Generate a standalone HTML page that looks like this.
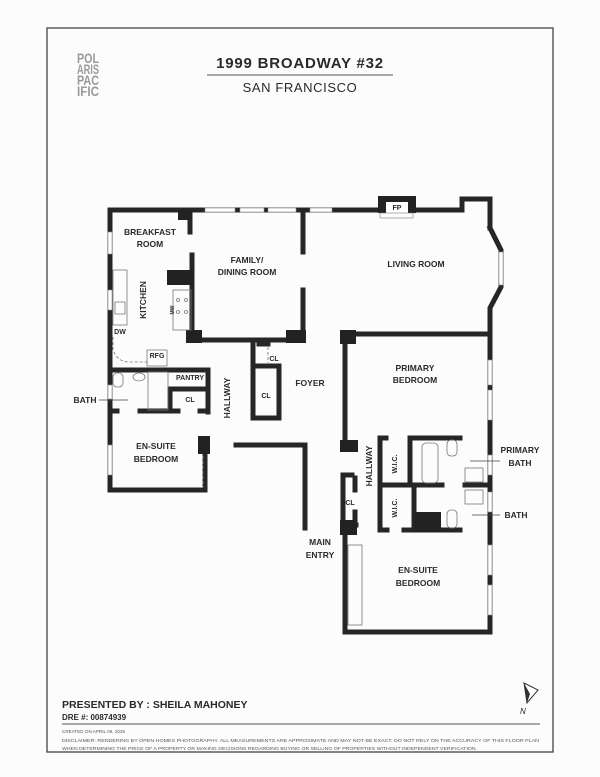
<!DOCTYPE html>
<html><head><meta charset="utf-8"><style>
html,body{margin:0;padding:0;background:#fcfcfc;}
svg{display:block}
text{font-family:"Liberation Sans",sans-serif;fill:#2a2a2a;font-weight:bold}
text.logo{fill:#9a9a9a;font-size:14px}
text.disc{fill:#555;font-weight:normal}
</style></head><body>
<svg width="600" height="777" viewBox="0 0 600 777" xmlns="http://www.w3.org/2000/svg">
<rect x="0" y="0" width="600" height="777" fill="#fcfcfc"/>
<rect x="47" y="28" width="506" height="724" fill="none" stroke="#444" stroke-width="1.3"/>
<!-- logo -->
<text class="logo" x="77" y="63" textLength="22" lengthAdjust="spacingAndGlyphs">POL</text>
<text class="logo" x="77" y="74" textLength="22" lengthAdjust="spacingAndGlyphs">ARIS</text>
<text class="logo" x="77" y="85" textLength="22" lengthAdjust="spacingAndGlyphs">PAC</text>
<text class="logo" x="77" y="96" textLength="22" lengthAdjust="spacingAndGlyphs">IFIC</text>
<text x="300" y="68" text-anchor="middle" font-size="15" letter-spacing="0.8">1999 BROADWAY #32</text>
<line x1="207" y1="75" x2="393" y2="75" stroke="#555" stroke-width="1"/>
<text x="300" y="92" text-anchor="middle" font-size="13" style="font-weight:normal" letter-spacing="0.6">SAN FRANCISCO</text>

<!-- walls -->
<g stroke="#262626" stroke-width="5" fill="none" stroke-linecap="square">
<polyline points="110,212 110,490 205,490 205,440"/>
<line x1="110" y1="210" x2="303" y2="210"/>
<line x1="303" y1="210" x2="462" y2="210"/>
<polyline points="462,210 462,199 490,199 490,228"/>
<polyline points="490,228 501,250 501,287 490,308 490,332"/>
<line x1="190" y1="212" x2="190" y2="232"/>
<line x1="192" y1="255" x2="192" y2="340"/>
<line x1="303" y1="212" x2="303" y2="252"/>
<line x1="303" y1="290" x2="303" y2="340"/>
<line x1="192" y1="340" x2="303" y2="340"/>
<line x1="110" y1="370" x2="208" y2="370"/>
<line x1="208" y1="370" x2="208" y2="412"/>
<line x1="170" y1="389" x2="208" y2="389"/>
<line x1="170" y1="389" x2="170" y2="411"/>
<line x1="110" y1="411" x2="117" y2="411"/>
<line x1="140" y1="411" x2="178" y2="411"/>
<line x1="200" y1="411" x2="208" y2="411"/>
<polyline points="253,344 253,418 279,418 279,366 253,366"/>
<line x1="259" y1="344" x2="268" y2="344"/>
<polyline points="236,445 305,445 305,528"/>
<polyline points="345,334 490,334 490,632 345,632 345,528"/>
<line x1="345" y1="334" x2="345" y2="445"/>
<line x1="380" y1="438" x2="380" y2="530"/>
<line x1="380" y1="438" x2="386" y2="438"/>
<line x1="380" y1="530" x2="387" y2="530"/>
<line x1="410" y1="438" x2="460" y2="438"/>
<line x1="410" y1="438" x2="410" y2="485"/>
<line x1="380" y1="485" x2="442" y2="485"/>
<line x1="414" y1="485" x2="414" y2="530"/>
<line x1="404" y1="530" x2="460" y2="530"/>
<line x1="465" y1="485" x2="490" y2="485"/>
<polyline points="352,475 343,475 343,525 356,525"/>
<line x1="355" y1="478" x2="355" y2="490"/>
<line x1="355" y1="512" x2="355" y2="525"/>
</g>
<g fill="#222">
<rect x="167" y="270" width="27" height="15"/>
<rect x="186" y="330" width="16" height="13"/>
<rect x="286" y="330" width="20" height="13"/>
<rect x="178" y="210" width="14" height="10"/>
<rect x="198" y="436" width="12" height="18"/>
<rect x="340" y="330" width="16" height="14"/>
<rect x="340" y="440" width="18" height="12"/>
<rect x="340" y="520" width="17" height="15"/>
<rect x="414" y="512" width="27" height="20"/>
<rect x="378" y="196" width="38" height="17"/>
</g>
<rect x="386" y="202" width="22" height="11" fill="#fff"/>
<rect x="380" y="213" width="33" height="5" fill="none" stroke="#777" stroke-width="0.6"/>
<g fill="#fff" stroke="#888" stroke-width="0.6">
<rect x="205" y="208" width="30" height="4"/><rect x="240" y="208" width="24" height="4"/><rect x="268" y="208" width="28" height="4"/><rect x="310" y="208" width="22" height="4"/>
<rect x="108" y="232" width="4" height="22"/><rect x="108" y="290" width="4" height="20"/>
<rect x="108" y="385" width="4" height="14"/><rect x="108" y="445" width="4" height="30"/>
<rect x="499" y="252" width="4" height="33"/>
<rect x="488" y="360" width="4" height="25"/><rect x="488" y="390" width="4" height="30"/><rect x="488" y="455" width="4" height="20"/><rect x="488" y="492" width="4" height="20"/><rect x="488" y="545" width="4" height="30"/><rect x="488" y="585" width="4" height="30"/>
</g>
<g fill="none" stroke="#777" stroke-width="0.8">
<rect x="113" y="270" width="14" height="55"/><rect x="115" y="302" width="10" height="12"/>
<rect x="173" y="290" width="18" height="40"/>
<circle cx="178" cy="300" r="1.5"/><circle cx="186" cy="300" r="1.5"/><circle cx="178" cy="312" r="1.5"/><circle cx="186" cy="312" r="1.5"/>
<path d="M113,337 v12 q3,12 15,13 h20" stroke-dasharray="3,2"/>
<rect x="147" y="350" width="20" height="16"/>
<rect x="113" y="373" width="10" height="14" rx="4"/>
<ellipse cx="139" cy="377" rx="6" ry="4"/>
<rect x="148" y="372" width="20" height="38"/>
<rect x="422" y="443" width="16" height="40" rx="4"/>
<rect x="447" y="440" width="10" height="16" rx="4"/>
<rect x="465" y="468" width="18" height="14"/><rect x="465" y="490" width="18" height="14"/>
<rect x="447" y="510" width="10" height="18" rx="4"/>
<rect x="348" y="545" width="14" height="80"/>
<line x1="203" y1="456" x2="203" y2="488" stroke-dasharray="3,2"/>
<line x1="268" y1="347" x2="268" y2="363" stroke-dasharray="3,2"/>
</g>
<g stroke="#444" stroke-width="0.8">
<line x1="99" y1="400" x2="128" y2="400"/>
<line x1="470" y1="461" x2="500" y2="461"/>
<line x1="472" y1="515" x2="500" y2="515"/>
</g>
<g font-size="8.5" text-anchor="middle">
<text x="150" y="235">BREAKFAST</text><text x="150" y="247">ROOM</text>
<text x="247" y="263">FAMILY/</text><text x="247" y="275">DINING ROOM</text>
<text x="416" y="267">LIVING ROOM</text>
<text x="415" y="371">PRIMARY</text><text x="415" y="383">BEDROOM</text>
<text x="310" y="386">FOYER</text>
<text x="156" y="449">EN-SUITE</text><text x="156" y="462">BEDROOM</text>
<text x="418" y="573">EN-SUITE</text><text x="418" y="586">BEDROOM</text>
<text x="320" y="545">MAIN</text><text x="320" y="558">ENTRY</text>
<text x="85" y="403">BATH</text>
<text x="520" y="453">PRIMARY</text><text x="520" y="466">BATH</text>
<text x="516" y="518">BATH</text>
<text x="143" y="300" transform="rotate(-90 143 300)" dy="3">KITCHEN</text>
<text x="227" y="398" transform="rotate(-90 227 398)" dy="3">HALLWAY</text>
<text x="369" y="466" transform="rotate(-90 369 466)" dy="3">HALLWAY</text>
</g>
<g font-size="7" text-anchor="middle">
<text x="274" y="361">CL</text><text x="266" y="398">CL</text><text x="190" y="380">PANTRY</text><text x="190" y="402">CL</text>
<text x="350" y="505">CL</text><text x="397" y="210">FP</text>
<text x="120" y="334">DW</text><text x="157" y="358">RFG</text>
<text x="395" y="464" transform="rotate(-90 395 464)" dy="2">W.I.C.</text>
<text x="395" y="508" transform="rotate(-90 395 508)" dy="2">W.I.C.</text>
<text x="172" y="310" transform="rotate(-90 172 310)" dy="2" font-size="5">MW</text>
</g>
<path d="M524,683 L538,690 L527,703 Z" fill="#fff" stroke="#333" stroke-width="1"/>
<path d="M524,683 L527,703 L530,694 Z" fill="#333"/>
<text x="520" y="714" font-size="8" style="font-style:italic;font-weight:normal">N</text>
<text x="62" y="708" font-size="10.5">PRESENTED BY : SHEILA MAHONEY</text>
<text x="62" y="720" font-size="8">DRE #: 00874939</text>
<line x1="62" y1="724" x2="540" y2="724" stroke="#555" stroke-width="1"/>
<g font-size="4.6">
<text class="disc" x="62" y="733">CREATED ON APRIL 09, 2026</text>
<text class="disc" x="62" y="742" textLength="477" lengthAdjust="spacingAndGlyphs">DISCLAIMER: RENDERING BY OPEN HOMES PHOTOGRAPHY. ALL MEASUREMENTS ARE APPROXIMATE AND MAY NOT BE EXACT. DO NOT RELY ON THE ACCURACY OF THIS FLOOR PLAN</text>
<text class="disc" x="62" y="750" textLength="415" lengthAdjust="spacingAndGlyphs">WHEN DETERMINING THE PRICE OF A PROPERTY OR MAKING DECISIONS REGARDING BUYING OR SELLING OF PROPERTIES WITHOUT INDEPENDENT VERIFICATION.</text>
</g>
</svg>
</body></html>
